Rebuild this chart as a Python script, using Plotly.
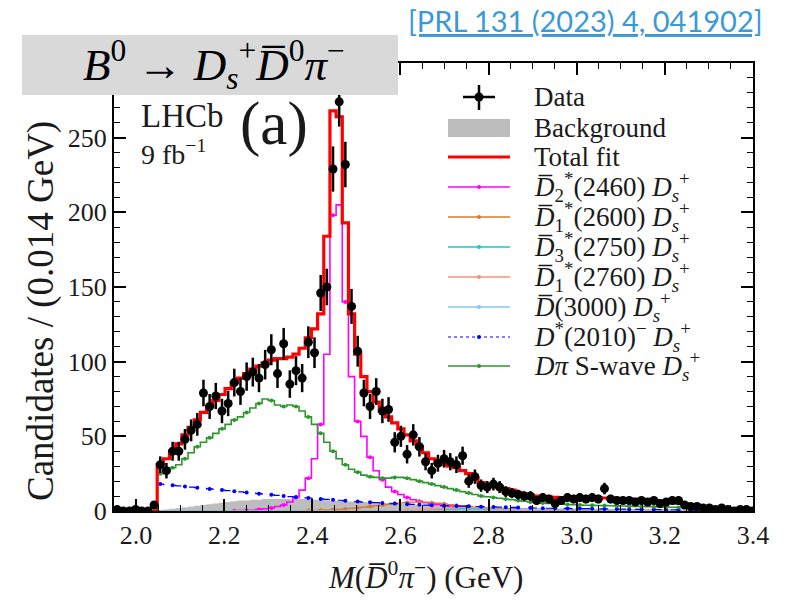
import numpy as np
import plotly.graph_objects as go

# ---------------- data ----------------
BIN_LO = 1.936
BIN_W = 0.014
N_BINS = 105
centers = [round(BIN_LO + BIN_W * (i + 0.5), 4) for i in range(N_BINS)]

data_counts = [0, 1, 0, 0, 1, 0, 0, 4,
               31, 27, 40, 40, 48, 54, 58, 79, 70, 77,
               67, 72, 86, 80, 90, 93, 89, 98, 108, 92,
               112, 85, 94, 89, 113, 106, 146, 150, 229, 274,
               232, 137, 107,
               79, 70, 80, 67, 68, 46, 50, 38, 51, 43,
               33, 27, 32, 35, 33, 31, 37, 20, 23, 17,
               16, 18, 16, 13, 12, 11, 10, 10, 7, 9,
               8, 5, 7,
               9, 8, 9, 8, 9, 8, 15, 8, 7, 7,
               7, 6, 7, 6, 7, 5, 6, 7, 7, 4,
               3, 3, 2, 2, 1, 2, 1, 0, 1, 1, 0]

total_fit = [0] * 8 + [
    31, 35, 40, 45, 51, 56, 61, 66, 70, 74, 78, 82, 86, 89, 92, 95, 97, 99, 101, 102,
    102, 103, 105, 109, 116, 122, 132, 184, 268, 264, 193, 132, 105,
    90, 80, 73, 67, 63, 59, 55, 51, 47, 43, 39, 35, 32, 31, 30, 29, 27, 25, 22, 19,
    18, 17, 16, 15, 14, 12.5, 11.5, 10.5, 10, 9.6, 9.3, 9.1, 9, 9, 9, 9, 9, 8.9, 8.8, 8.7,
    8.6, 8.4, 8.2, 8, 7.8, 7.5, 7.2, 6.9, 6.6, 6.2, 5.8, 5.3, 4.8, 4.2, 3.6, 3.0, 2.5, 2.0,
    1.7, 1.4, 1.2, 1.0, 0.8, 0.7]

background = [0] * 8 + [
    0.5, 1, 1.5, 2, 2.5, 3, 3.5, 4, 4.5, 5, 5.5, 6, 6.5, 7,
    7, 7.5, 7.5, 8, 8, 8, 8, 8, 8, 8,
    7.8, 7.6, 7.4, 7.2, 7, 6.8, 6.6, 6.4, 6.2, 6, 5.8, 5.6, 5.4, 5.2, 5, 4.8, 4.6, 4.4, 4.2, 4,
    3.8, 3.6, 3.4, 3.2, 3, 2.8, 2.6, 2.4, 2.2, 2,
    1.9, 1.8, 1.7, 1.6, 1.5, 1.4, 1.3, 1.2, 1.1, 1.0, 0.95, 0.9, 0.85, 0.8, 0.75, 0.7, 0.65,
    0.6, 0.55, 0.5, 0.48, 0.46, 0.44, 0.42, 0.4, 0.38, 0.36, 0.34, 0.32, 0.3, 0.28, 0.26,
    0.24, 0.22, 0.2, 0.18, 0.16, 0.14, 0.12, 0.1, 0.1, 0.1, 0.1]

d2_2460 = [0] * 8 + [
    0, 0, 0, 0, 0, 0, 0, 0, 0, 0, 0, 0, 0.2, 0.3, 0.4,
    0.5, 1, 1.5, 2, 3, 4, 6, 9, 14, 22, 35, 58, 105, 198, 205, 140, 90, 60,
    50, 36, 27, 21, 16, 13, 11, 9, 7.5, 6.5, 5.5, 4.8, 4.2, 3.7, 3.3, 3.0, 2.7, 2.4, 2.2, 2.0,
    1.8, 1.6, 1.5, 1.4, 1.3, 1.2, 1.1, 1.0, 0.95, 0.9,
    0.85, 0.8, 0.78, 0.75, 0.72, 0.7, 0.68, 0.65, 0.62, 0.6, 0.58, 0.55, 0.52, 0.5, 0.48,
    0.46, 0.44, 0.42, 0.4, 0.38, 0.36, 0.34, 0.32, 0.3, 0.28, 0.26, 0.24, 0.22, 0.2, 0.18,
    0.16, 0.14, 0.12, 0.1]

d1_2600 = [0] * 8 + [0] * 23 + [0.2, 0.3, 0.4, 0.5] + [
    0.7, 0.9, 1.1, 1.4, 1.7, 2.1, 2.5, 3, 3.5, 4, 4.5, 5, 5.4, 5.7, 5.9, 6, 5.9, 5.6, 5.2,
    4.8, 4.3, 3.8, 3.4, 3, 2.6, 2.3, 2, 1.8, 1.6, 1.4, 1.25, 1.1, 1, 0.9, 0.8, 0.7,
    0.65, 0.6, 0.55, 0.5, 0.45, 0.42, 0.4, 0.38, 0.35, 0.32, 0.3, 0.28, 0.26, 0.24, 0.22,
    0.2, 0.18, 0.16, 0.15, 0.14, 0.13, 0.12, 0.11, 0.1, 0.1, 0.1, 0.1, 0.1, 0.1, 0.1, 0.1,
    0.1, 0.1, 0.1]

d3_2750 = [0] * 8 + [0] * 40 + [
    0.2, 0.3, 0.4, 0.5, 0.7, 0.9, 1.1, 1.3, 1.5, 1.6, 1.6, 1.5, 1.3, 1.1, 0.9, 0.7, 0.6,
    0.5, 0.4, 0.35, 0.3, 0.25, 0.2, 0.2, 0.15] + [0.1] * 32

d1_2760 = [0] * 8 + [0] * 40 + [
    0.3, 0.5, 0.7, 0.9, 1.2, 1.5, 1.8, 2.1, 2.3, 2.4, 2.4, 2.3, 2.1, 1.8, 1.5, 1.2, 1.0,
    0.8, 0.6, 0.5, 0.4, 0.3, 0.25, 0.2, 0.15] + [0.1] * 32

d_3000 = [0] * 8 + [0] * 52 + [
    0.2, 0.3, 0.4, 0.5, 0.6, 0.7, 0.8, 0.9, 1.0, 1.1, 1.2, 1.2, 1.3, 1.3, 1.3, 1.3, 1.2,
    1.2, 1.1, 1.0, 0.9, 0.8, 0.7, 0.6, 0.5, 0.45, 0.4, 0.35, 0.3, 0.25, 0.2, 0.2, 0.15,
    0.15, 0.1, 0.1] + [0.1] * 9

dstar_2010 = [0] * 8 + [
    18, 17.6, 17.2, 16.8, 16.4, 16, 15.6, 15.2, 14.8, 14.4, 14, 13.6, 13.2, 12.8, 12.4, 12,
    11.6, 11.2, 10.8, 10.4, 10, 9.6, 9.3, 9, 8.7, 8.4, 8.1, 7.8, 7.5, 7.2, 6.9, 6.6, 6.3,
    6, 5.8, 5.6, 5.4, 5.2, 5, 4.8, 4.6, 4.4, 4.2, 4, 3.8, 3.6, 3.5, 3.4, 3.3, 3.2, 3.1, 3,
    2.9, 2.8, 2.7, 2.6, 2.5, 2.4, 2.3, 2.2, 2.1, 2.0, 1.9,
    1.85, 1.8, 1.75, 1.7, 1.65, 1.6, 1.55, 1.5, 1.45, 1.4, 1.35, 1.3, 1.25, 1.2, 1.15, 1.1,
    1.05, 1.0, 0.95, 0.9, 0.85, 0.8, 0.75, 0.7, 0.65, 0.6, 0.55, 0.5, 0.45, 0.4, 0.35, 0.3,
    0.25, 0.2]

dpi_swave = [0] * 8 + [
    25, 27, 29, 31, 35, 39, 43, 46, 49, 52, 55, 58, 61, 63, 66, 69, 72, 75, 74, 71, 70, 71,
    70, 67, 63, 58, 52, 46, 40, 35, 31, 28, 26,
    24, 23, 22.5, 22, 22, 22.5, 22.5, 22, 21, 20, 19, 18, 17, 16, 15, 14, 13, 12, 11, 10,
    9.5, 9, 8.5, 8, 7.5, 7, 6.5, 6, 5.6, 5.3, 5, 4.8, 4.6, 4.4, 4.2,
    4.0, 3.9, 3.8, 3.7, 3.6, 3.5, 3.4, 3.3, 3.2, 3.1, 3.0, 2.9, 2.8, 2.7, 2.6, 2.5, 2.4,
    2.3, 2.2, 2.1, 2.0, 1.9, 1.8, 1.7, 1.6, 1.5, 1.4, 1.3, 1.2]

for name, arr in [("data", data_counts), ("fit", total_fit), ("bkg", background),
                  ("d2", d2_2460), ("d1", d1_2600), ("d3", d3_2750), ("d1b", d1_2760),
                  ("d3000", d_3000), ("dstar", dstar_2010), ("swave", dpi_swave)]:
    assert len(arr) == N_BINS, (name, len(arr))

x_tick_vals = [2.0, 2.2, 2.4, 2.6, 2.8, 3.0, 3.2, 3.4]
x_tick_text = ["2.0", "2.2", "2.4", "2.6", "2.8", "3.0", "3.2", "3.4"]
y_tick_vals = [0, 50, 100, 150, 200, 250]
y_tick_text = ["0", "50", "100", "150", "200", "250"]

components = [
    ("d2", d2_2460, "#ff00ff", 1.6, "solid"),
    ("d1", d1_2600, "#d9782d", 1.3, "solid"),
    ("d3", d3_2750, "#20c5c5", 1.3, "solid"),
    ("d1b", d1_2760, "#f7907f", 1.3, "solid"),
    ("d3000", d_3000, "#80c8f0", 1.3, "solid"),
    ("dstar", dstar_2010, "#0000ff", 1.2, "dash"),
    ("swave", dpi_swave, "#2e962e", 1.6, "solid"),
]

# ---------------- figure ----------------
W, H = 795, 601
L, R, T, B = 114, 753, 63, 511
SERIF = "Liberation Serif"
TXT = "#1a1a1a"


def px(x):
    return (x - L) / (R - L)


def py(y):
    return (B - y) / (B - T)


fig = go.Figure()

fig.add_trace(go.Scatter(x=centers, y=background, mode="lines", line_shape="hvh",
                         line=dict(width=0, color="#bdbdbd"), fill="tozeroy",
                         fillcolor="#bdbdbd", hoverinfo="skip", showlegend=False))

for name, vals, col, lw, dash in components:
    fig.add_trace(go.Scatter(x=centers, y=vals, mode="lines", line_shape="hvh",
                             line=dict(color=col, width=lw, dash=dash),
                             showlegend=False, hoverinfo="skip"))
    mx = [c for i, (c, v) in enumerate(zip(centers, vals)) if i >= 8 and i % 2 == 0 and v > 0.05]
    my = [v for i, (c, v) in enumerate(zip(centers, vals)) if i >= 8 and i % 2 == 0 and v > 0.05]
    fig.add_trace(go.Scatter(x=mx, y=my, mode="markers",
                             marker=dict(color=col, size=4), showlegend=False,
                             hoverinfo="skip"))

fig.add_trace(go.Scatter(x=centers, y=total_fit, mode="lines", line_shape="hvh",
                         line=dict(color="#ff0000", width=3.2), showlegend=False,
                         hoverinfo="skip"))

err = [float(np.sqrt(max(n, 1))) for n in data_counts]
fig.add_trace(go.Scatter(x=centers, y=data_counts, mode="markers",
                         marker=dict(color="black", size=9),
                         error_y=dict(type="data", array=err, color="black",
                                      thickness=2.5, width=0),
                         error_x=dict(type="constant", value=BIN_W / 2, color="black",
                                      thickness=2.5, width=0),
                         showlegend=False, hoverinfo="skip"))

shapes = []
annotations = []

# title box
shapes.append(dict(type="rect", xref="paper", yref="paper", x0=px(22), x1=px(398),
                   y0=py(95), y1=py(35), fillcolor="#d9d9d9", line=dict(width=0),
                   layer="above"))
annotations.append(dict(xref="paper", yref="paper", x=px(214), y=py(64),
                        text="<i>B</i><sup>0</sup> → <i>D</i><sub><i>s</i></sub><sup>+</sup>"
                             "<i>D\u0305</i><sup>0</sup><i>π</i><sup>−</sup>",
                        showarrow=False, font=dict(family=SERIF, size=45, color="black"),
                        xanchor="center", yanchor="middle"))
annotations.append(dict(xref="paper", yref="paper", x=px(585), y=py(20),
                        text="<u>[PRL 131 (2023) 4, 041902]</u>", showarrow=False,
                        font=dict(family="Lato", size=29, color="#3a9ad9"),
                        xanchor="center", yanchor="middle"))

annotations.append(dict(xref="paper", yref="paper", x=px(139), y=py(116), text="LHCb",
                        showarrow=False, xanchor="left", yanchor="middle",
                        font=dict(family=SERIF, size=33, color=TXT)))
annotations.append(dict(xref="paper", yref="paper", x=px(139), y=py(153),
                        text="9 fb<sup>−1</sup>", showarrow=False, xanchor="left",
                        yanchor="middle", font=dict(family=SERIF, size=28, color=TXT)))
annotations.append(dict(xref="paper", yref="paper", x=px(238), y=py(124), text="(a)",
                        showarrow=False, xanchor="left", yanchor="middle",
                        font=dict(family=SERIF, size=61, color=TXT)))

annotations.append(dict(xref="paper", yref="paper", x=px(41), y=py(311),
                        text="Candidates / (0.014 GeV)", textangle=-90, showarrow=False,
                        xanchor="center", yanchor="middle",
                        font=dict(family=SERIF, size=37, color=TXT)))
annotations.append(dict(xref="paper", yref="paper", x=px(425), y=py(575),
                        text="<i>M</i>(<i>D\u0305</i><sup>0</sup><i>π</i><sup>−</sup>) (GeV)",
                        showarrow=False, xanchor="center", yanchor="middle",
                        font=dict(family=SERIF, size=31, color=TXT)))

# legend (drawn by hand)
leg_rows = [97, 128, 157, 187, 217, 247, 277, 307, 337, 366]
leg_text = [
    "Data", "Background", "Total fit",
    "<i>D\u0305</i><sub>2</sub><sup>*</sup>(2460) <i>D</i><sub><i>s</i></sub><sup>+</sup>",
    "<i>D\u0305</i><sub>1</sub><sup>*</sup>(2600) <i>D</i><sub><i>s</i></sub><sup>+</sup>",
    "<i>D\u0305</i><sub>3</sub><sup>*</sup>(2750) <i>D</i><sub><i>s</i></sub><sup>+</sup>",
    "<i>D\u0305</i><sub>1</sub><sup>*</sup>(2760) <i>D</i><sub><i>s</i></sub><sup>+</sup>",
    "<i>D\u0305</i>(3000) <i>D</i><sub><i>s</i></sub><sup>+</sup>",
    "<i>D</i><sup>*</sup>(2010)<sup>−</sup> <i>D</i><sub><i>s</i></sub><sup>+</sup>",
    "<i>Dπ</i> S-wave <i>D</i><sub><i>s</i></sub><sup>+</sup>",
]
SX0, SX1, SXC, TX = 448, 510, 479, 532
for yrow, txt in zip(leg_rows, leg_text):
    annotations.append(dict(xref="paper", yref="paper", x=px(TX), y=py(yrow), text=txt,
                            showarrow=False, xanchor="left", yanchor="middle",
                            font=dict(family=SERIF, size=27, color=TXT)))

# data symbol
shapes.append(dict(type="line", xref="paper", yref="paper", x0=px(463), x1=px(495),
                   y0=py(97), y1=py(97), line=dict(color="black", width=2.5)))
shapes.append(dict(type="line", xref="paper", yref="paper", x0=px(SXC), x1=px(SXC),
                   y0=py(85), y1=py(110), line=dict(color="black", width=2.5)))
shapes.append(dict(type="circle", xref="paper", yref="paper", x0=px(SXC - 4.5),
                   x1=px(SXC + 4.5), y0=py(101.5), y1=py(92.5), fillcolor="black",
                   line=dict(color="black", width=0)))
# background symbol
shapes.append(dict(type="rect", xref="paper", yref="paper", x0=px(SX0), x1=px(SX1),
                   y0=py(137), y1=py(119), fillcolor="#bdbdbd", line=dict(width=0)))
# total fit symbol
shapes.append(dict(type="line", xref="paper", yref="paper", x0=px(SX0), x1=px(SX1),
                   y0=py(157), y1=py(157), line=dict(color="#ff0000", width=3)))
for yrow, (name, vals, col, lw, dash) in zip(leg_rows[3:], components):
    shapes.append(dict(type="line", xref="paper", yref="paper", x0=px(SX0), x1=px(SX1),
                       y0=py(yrow), y1=py(yrow),
                       line=dict(color=col, width=lw, dash="dot" if dash == "dash" else "solid")))
    shapes.append(dict(type="circle", xref="paper", yref="paper", x0=px(SXC - 2),
                       x1=px(SXC + 2), y0=py(yrow + 2), y1=py(yrow - 2), fillcolor=col,
                       line=dict(width=0)))

fig.update_layout(
    width=W, height=H, margin=dict(l=L, r=W - R, t=T, b=H - B),
    font=dict(family=SERIF, color=TXT, size=26),
    paper_bgcolor="white", plot_bgcolor="white", shapes=shapes,
    annotations=annotations, showlegend=False,
    xaxis=dict(range=[1.95, 3.40], tickmode="array", tickvals=x_tick_vals,
               ticktext=x_tick_text,
               tickfont=dict(family=SERIF, size=26, color=TXT),
               showline=True, linewidth=2, linecolor="black", mirror="allticks",
               ticks="inside", ticklen=12, tickwidth=1.6, tickcolor="black",
               showgrid=False, zeroline=False,
               minor=dict(ticks="inside", ticklen=6, dtick=0.05, tick0=2.0,
                          tickcolor="black", tickwidth=1.4)),
    yaxis=dict(range=[0, 300], tickmode="array", tickvals=y_tick_vals,
               ticktext=y_tick_text,
               tickfont=dict(family=SERIF, size=26, color=TXT),
               showline=True, linewidth=2, linecolor="black", mirror="allticks",
               ticks="inside", ticklen=12, tickwidth=1.6, tickcolor="black",
               showgrid=False, zeroline=False,
               minor=dict(ticks="inside", ticklen=6, dtick=10, tick0=0,
                          tickcolor="black", tickwidth=1.4)),
)

fig.write_html("out.html")
